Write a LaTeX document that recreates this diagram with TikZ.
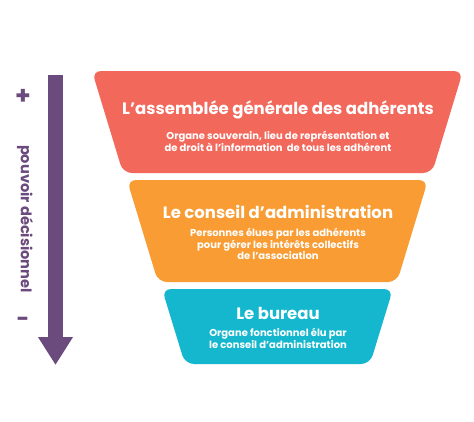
\documentclass[tikz,border=0pt]{standalone}
\usepackage{fontspec}
\setmainfont{Poppins}
\usetikzlibrary{arrows.meta}
\definecolor{cRed}{HTML}{F2695C}
\definecolor{cOrange}{HTML}{F89C33}
\definecolor{cBlue}{HTML}{14B7CE}
\definecolor{cPurple}{HTML}{6B4A7D}
\begin{document}
\begin{tikzpicture}[x=1pt,y=-1pt,
  tier/.style={rounded corners=9pt},
  ttl/.style={text=white,font=\bfseries\fontsize{16.5}{18}\selectfont,inner sep=0pt},
  sub/.style={text=white,font=\bfseries\fontsize{10}{11.8}\selectfont,align=center,inner sep=0pt},
  side/.style={text=cPurple,font=\bfseries,inner sep=0pt}]
\useasboundingbox (0,0) rectangle (474,421);
\fill[white] (0,0) rectangle (474,421);
% tiers
\fill[cRed,tier] (92,71) -- (463,71) -- (432,173) -- (123,173) -- cycle;
\fill[cOrange,tier] (127,180) -- (428,180) -- (397,282) -- (158,282) -- cycle;
\fill[cBlue,tier] (162,289) -- (393,289) -- (370,364) -- (185,364) -- cycle;
% texts
\node[ttl] (t1) at (278,110) {L’assemblée générale des adhérents};
\node[sub] (s1) at (278,141.5) {Organe souverain, lieu de représentation et\\de droit à l’information\ \ de tous les adhérent};
\node[ttl] (t2) at (278,212) {Le conseil d’administration};
\node[sub] (s2) at (278,244) {Personnes élues par les adhérents\\pour gérer les intérêts collectifs\\de l’association};
\node[ttl] (t3) at (278,313) {Le bureau};
\node[sub] (s3) at (278,338) {Organe fonctionnel élu par\\le conseil d’administration};
% arrow
\coordinate (atop) at (55.5,75);
\coordinate (atip) at (55.5,365);
\draw[cPurple,line width=15pt,-{Triangle[width=33pt,length=28pt]}] (atop) -- (atip);
\node[side,font=\bfseries\fontsize{25}{25}\selectfont] (plus) at (23,97) {+};
\node[side,font=\bfseries\fontsize{22}{22}\selectfont] (minus) at (23,322) {-};
\node[side,font=\bfseries\fontsize{14.6}{16}\selectfont,rotate=-90] (pv) at (25,219) {pouvoir décisionnel};
\end{tikzpicture}
\end{document}
